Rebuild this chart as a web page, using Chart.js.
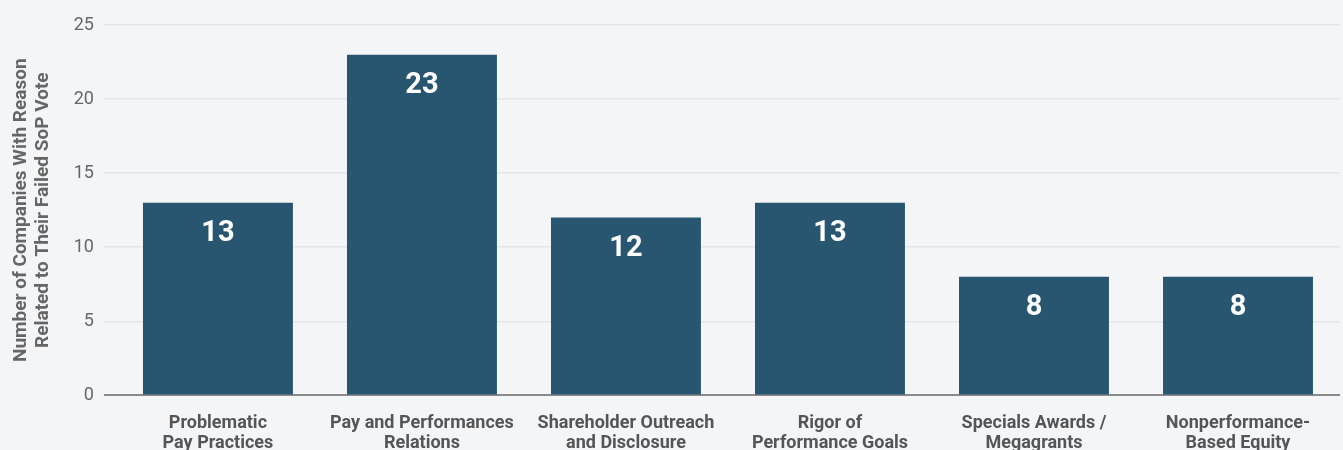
<!DOCTYPE html>
<html>
<head>
<meta charset="utf-8">
<script src="https://cdn.jsdelivr.net/npm/chart.js@4"></script>
<style>
html,body{margin:0;padding:0;background:#f4f5f7;overflow:hidden;}
#wrap{width:1343px;height:463px;position:relative;}
</style>
</head>
<body>
<div id="wrap"><canvas id="c"></canvas></div>
<script>
const categories = [
  ["Problematic","Pay Practices"],
  ["Pay and Performances","Relations"],
  ["Shareholder Outreach","and Disclosure"],
  ["Rigor of","Performance Goals"],
  ["Specials Awards /","Megagrants"],
  ["Nonperformance-","Based Equity"]
];
const values = [13, 23, 12, 13, 8, 8];
const yTicks = [0, 5, 10, 15, 20, 25];
const yTitle = ["Number of Companies With Reason","Related to Their Failed SoP Vote"];

const valueLabels = {
  id: 'valueLabels',
  afterDatasetsDraw(chart) {
    const ctx = chart.ctx;
    const meta = chart.getDatasetMeta(0);
    ctx.save();
    ctx.fillStyle = '#ffffff';
    ctx.font = "bold 29px Roboto, sans-serif";
    ctx.textAlign = 'center';
    ctx.textBaseline = 'middle';
    meta.data.forEach((bar, i) => {
      ctx.fillText(String(values[i]), bar.x, bar.y + 31);
    });
    ctx.restore();
  }
};

new Chart(document.getElementById('c'), {
  type: 'bar',
  data: {
    labels: categories,
    datasets: [{
      data: values,
      backgroundColor: '#285670',
      borderWidth: 0,
      barPercentage: 0.735,
      categoryPercentage: 1.0
    }]
  },
  options: {
    responsive: true,
    maintainAspectRatio: false,
    animation: false,
    layout: { padding: { top: 25, right: 3, left: 10, bottom: 0 } },
    plugins: { legend: { display: false }, tooltip: { enabled: false } },
    scales: {
      x: {
        grid: { display: false },
        border: { display: false },
        ticks: {
          color: '#555555',
          font: { family: "Roboto, sans-serif", size: 18, weight: 'bold', lineHeight: 1.1 },
          maxRotation: 0, autoSkip: false, padding: 10
        }
      },
      y: {
        min: 0, max: 25,
        afterBuildTicks(axis) { axis.ticks = yTicks.map(v => ({ value: v })); },
        grid: {
          color: (c) => c.tick && c.tick.value === 0 ? '#8a8a8a' : '#e3e5e8',
          lineWidth: (c) => c.tick && c.tick.value === 0 ? 2 : 1.5,
          tickLength: 12
        },
        border: { display: false },
        ticks: {
          color: '#666666',
          font: { family: "Roboto, sans-serif", size: 18 },
          padding: 10
        },
        title: {
          display: true,
          text: yTitle,
          color: '#666666',
          font: { family: "Roboto, sans-serif", size: 19, weight: 'bold', lineHeight: 1.15 },
          padding: { top: 0, bottom: 10 }
        }
      }
    }
  },
  plugins: [valueLabels]
});
</script>
</body>
</html>
